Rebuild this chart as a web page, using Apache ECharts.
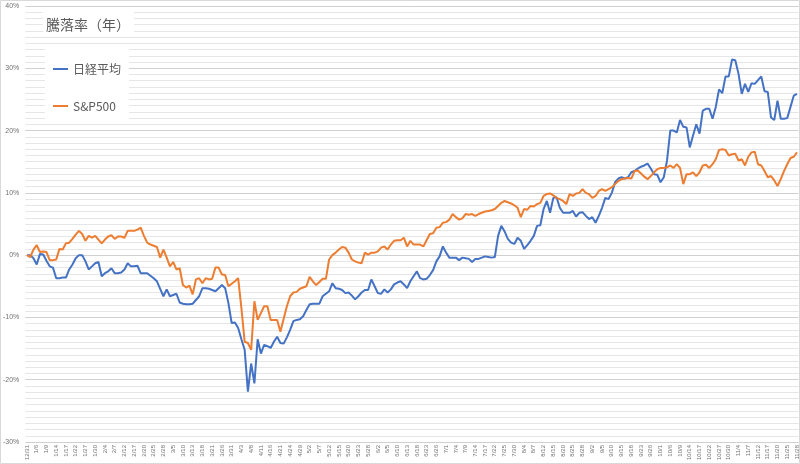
<!DOCTYPE html>
<html>
<head>
<meta charset="utf-8">
<script src="https://cdn.jsdelivr.net/npm/echarts@6/dist/echarts.min.js"></script>
<style>
html,body{margin:0;padding:0;background:#fff;}
#chart{width:800px;height:464px;}
</style>
</head>
<body>
<div id="chart"></div>
<script>
const titleText = '騰落率（年）';
const seriesNames = ['日経平均', 'S&P500'];

const categories = [
'12/31',
'1/2','1/3','1/6','1/7','1/8','1/9','1/10','1/13','1/14','1/15','1/16','1/17','1/20','1/21','1/22','1/23','1/24','1/27','1/28','1/29','1/30','1/31',
'2/3','2/4','2/5','2/6','2/7','2/10','2/11','2/12','2/13','2/14','2/17','2/18','2/19','2/20','2/21','2/24','2/25','2/26','2/27','2/28',
'3/3','3/4','3/5','3/6','3/7','3/10','3/11','3/12','3/13','3/14','3/17','3/18','3/19','3/20','3/21','3/24','3/25','3/26','3/27','3/28','3/31',
'4/1','4/2','4/3','4/4','4/7','4/8','4/9','4/10','4/11','4/14','4/15','4/16','4/17','4/18','4/21','4/22','4/23','4/24','4/25','4/28','4/29','4/30',
'5/1','5/2','5/5','5/6','5/7','5/8','5/9','5/12','5/13','5/14','5/15','5/16','5/19','5/20','5/21','5/22','5/23','5/26','5/27','5/28','5/29','5/30',
'6/2','6/3','6/4','6/5','6/6','6/9','6/10','6/11','6/12','6/13','6/16','6/17','6/18','6/19','6/20','6/23','6/24','6/25','6/26','6/27','6/30',
'7/1','7/2','7/3','7/4','7/7','7/8','7/9','7/10','7/11','7/14','7/15','7/16','7/17','7/18','7/21','7/22','7/23','7/24','7/25','7/28','7/29','7/30','7/31',
'8/1','8/4','8/5','8/6','8/7','8/8','8/11','8/12','8/13','8/14','8/15','8/18','8/19','8/20','8/21','8/22','8/25','8/26','8/27','8/28','8/29',
'9/1','9/2','9/3','9/4','9/5','9/8','9/9','9/10','9/11','9/12','9/15','9/16','9/17','9/18','9/19','9/22','9/23','9/24','9/25','9/26','9/29','9/30',
'10/1','10/2','10/3','10/6','10/7','10/8','10/9','10/10','10/13','10/14','10/15','10/16','10/17','10/20','10/21','10/22','10/23','10/24','10/27','10/28','10/29','10/30','10/31',
'11/3','11/4','11/5','11/6','11/7','11/10','11/11','11/12','11/13','11/14','11/17','11/18','11/19','11/20','11/21','11/24','11/25','11/26','11/27','11/28'
];

// 騰落率 (%)
const nikkei = [
0.0,0.0,-0.5,-1.5,0.2,0.1,-0.9,-1.8,-2.0,-3.7,
-3.7,-3.6,-3.6,-2.3,-1.5,-0.5,0.0,0.0,-1.0,-2.3,
-1.8,-1.3,-1.1,-3.4,-2.9,-2.6,-2.1,-2.9,-2.9,-2.8,
-2.3,-1.3,-1.8,-1.8,-1.7,-2.9,-2.9,-2.9,-3.3,-3.7,
-4.2,-5.4,-6.6,-5.5,-6.6,-6.4,-6.2,-7.6,-7.8,-7.9,
-7.9,-7.8,-7.2,-6.6,-5.3,-5.3,-5.4,-5.6,-5.8,-5.3,
-4.8,-5.3,-7.7,-10.9,-10.8,-11.7,-13.5,-15.2,-21.9,-17.4,
-20.6,-13.5,-15.8,-14.4,-14.6,-14.9,-13.9,-13.1,-14.1,-14.2,
-13.2,-12.0,-10.6,-10.4,-10.3,-9.8,-8.8,-7.9,-7.8,-7.8,
-7.8,-6.6,-6.2,-5.8,-4.5,-5.3,-5.4,-5.6,-6.1,-6.0,
-6.5,-7.1,-6.6,-6.0,-5.6,-5.6,-3.9,-5.0,-6.1,-6.2,
-5.5,-6.0,-5.5,-4.7,-4.4,-4.2,-4.7,-5.3,-4.2,-3.4,
-2.6,-3.7,-3.9,-3.8,-3.2,-2.4,-1.0,-0.2,1.4,0.4,
-0.4,-0.4,-0.4,-0.8,-0.4,-0.5,-0.6,-1.1,-0.6,-0.6,
-0.4,-0.2,-0.3,-0.4,-0.3,3.1,4.7,3.8,2.6,2.0,
1.8,2.8,2.3,1.0,1.6,2.3,3.1,4.7,4.8,7.4,
8.7,6.8,9.2,9.3,7.6,6.8,6.8,6.8,7.1,6.2,
6.8,6.9,6.3,5.8,6.1,5.2,6.3,7.6,9.2,9.0,
10.0,11.7,12.3,12.5,12.3,12.5,13.3,13.5,13.9,14.2,
14.4,14.7,13.9,13.0,12.9,11.7,12.5,15.2,20.0,20.0,
19.7,21.7,20.6,20.5,17.3,19.2,21.0,19.5,23.2,23.5,
23.5,21.9,23.8,26.6,26.0,28.7,28.7,31.4,31.3,29.1,
25.9,27.5,26.2,27.6,27.5,28.1,28.7,26.3,26.2,22.1,
21.7,24.8,21.9,21.9,22.0,23.8,25.6,25.9
];

const sp500 = [
0.0,-0.3,0.9,1.6,0.5,0.6,0.5,-0.8,-0.8,-0.7,
1.0,0.9,1.9,2.0,2.6,3.3,3.9,3.4,2.3,3.1,
2.8,3.1,2.5,1.9,2.5,3.0,3.2,2.6,3.0,3.0,
2.8,3.9,3.9,3.9,4.1,4.4,3.1,2.0,1.7,1.5,
1.3,-0.4,0.9,-0.4,-1.8,-1.1,-2.3,-2.1,-4.8,-5.2,
-4.9,-6.3,-3.9,-3.7,-4.5,-3.7,-3.9,-3.8,-2.0,-2.0,
-3.1,-3.2,-5.0,-4.6,-4.2,-3.7,-8.5,-13.9,-14.1,-15.2,
-7.4,-10.4,-9.3,-8.2,-8.2,-10.4,-10.4,-10.4,-12.3,-10.2,
-8.2,-6.6,-6.0,-5.9,-5.4,-5.2,-5.0,-3.5,-4.2,-4.8,
-4.3,-3.8,-3.8,-0.7,0.0,0.4,0.9,1.3,1.2,0.4,
-0.7,-1.0,-1.2,-1.3,0.4,0.1,0.4,0.4,0.6,1.2,
1.4,0.9,1.7,2.3,2.4,2.4,2.8,1.4,2.3,1.7,
1.7,1.7,1.4,2.4,3.4,3.5,4.4,4.5,5.2,5.3,
5.7,6.6,6.1,5.7,5.9,6.6,6.5,6.6,6.3,6.6,
6.8,7.0,7.1,7.2,7.4,7.9,8.4,8.7,8.5,8.3,
8.0,7.6,6.1,7.4,7.3,7.9,7.8,8.2,8.4,9.5,
9.8,9.9,9.6,9.2,9.0,8.7,8.2,9.8,9.5,9.9,
10.0,10.6,10.0,9.8,9.2,9.5,10.3,10.6,10.3,10.6,
10.9,11.4,11.9,12.2,12.3,12.4,12.3,13.5,13.6,13.1,
12.6,12.2,12.7,13.3,13.8,14.0,14.0,14.1,14.4,14.0,
14.6,14.0,11.4,13.0,13.0,13.3,12.7,13.3,14.4,14.5,
14.0,14.6,15.4,16.9,17.0,16.9,16.0,16.2,16.3,15.2,
15.4,14.4,15.8,16.5,16.6,14.6,14.4,13.5,12.5,12.7,
12.0,11.1,12.2,13.5,14.6,15.6,15.8,16.5
];

const yMin = -30, yMax = 40, yStep = 10;

const chart = echarts.init(document.getElementById('chart'), null, {renderer: 'canvas'});
const uiFont = '"Noto Sans CJK JP", "Noto Sans", sans-serif';
const axisFont = '"Liberation Sans", "Noto Sans", sans-serif';

chart.setOption({
  animation: false,
  backgroundColor: '#ffffff',
  graphic: [{
    type: 'rect', z: 100, silent: true,
    shape: {x: 0.5, y: 0.5, width: 799, height: 463},
    style: {fill: 'none', stroke: '#d9d9d9', lineWidth: 1}
  }],
  title: {
    text: titleText,
    left: 43, top: 12,
    padding: [6, 4, 4, 3],
    backgroundColor: '#ffffff',
    textStyle: {fontFamily: uiFont, fontSize: 14, fontWeight: 'normal', color: '#595959'}
  },
  legend: {
    orient: 'vertical',
    left: 45, top: 45,
    padding: [18, 8, 9, 8],
    backgroundColor: '#ffffff',
    itemGap: 25,
    itemWidth: 15, itemHeight: 2,
    icon: 'rect',
    data: seriesNames,
    textStyle: {fontFamily: uiFont, fontSize: 12, color: '#595959', padding: [0,0,0,0]}
  },
  grid: {left: 25, right: 1, top: 6, bottom: 22, containLabel: false},
  xAxis: {
    type: 'category',
    data: categories,
    boundaryGap: true,
    axisLine: {show: true, lineStyle: {color: '#d0d0d0', width: 1}},
    axisTick: {show: false},
    axisLabel: {interval: 2, rotate: 90, fontSize: 6, color: '#707070', margin: 3, fontFamily: axisFont},
    splitLine: {show: false}
  },
  yAxis: {
    type: 'value',
    min: yMin, max: yMax, interval: yStep,
    axisLine: {show: false},
    axisTick: {show: false},
    axisLabel: {formatter: '{value}%', fontSize: 7, color: '#707070', margin: 6, fontFamily: axisFont},
    splitLine: {show: true, lineStyle: {color: '#d0d0d0', width: 1}},
    minorTick: {show: false, splitNumber: 10},
    minorSplitLine: {show: true, lineStyle: {color: '#e6e6e6', width: 1}}
  },
  series: [
    {name: seriesNames[0], type: 'line', data: nikkei, symbol: 'none', showSymbol: false,
     lineStyle: {color: '#4472C4', width: 2}, itemStyle: {color: '#4472C4'}},
    {name: seriesNames[1], type: 'line', data: sp500, symbol: 'none', showSymbol: false,
     lineStyle: {color: '#ED7D31', width: 2}, itemStyle: {color: '#ED7D31'}}
  ]
});
</script>
</body>
</html>
